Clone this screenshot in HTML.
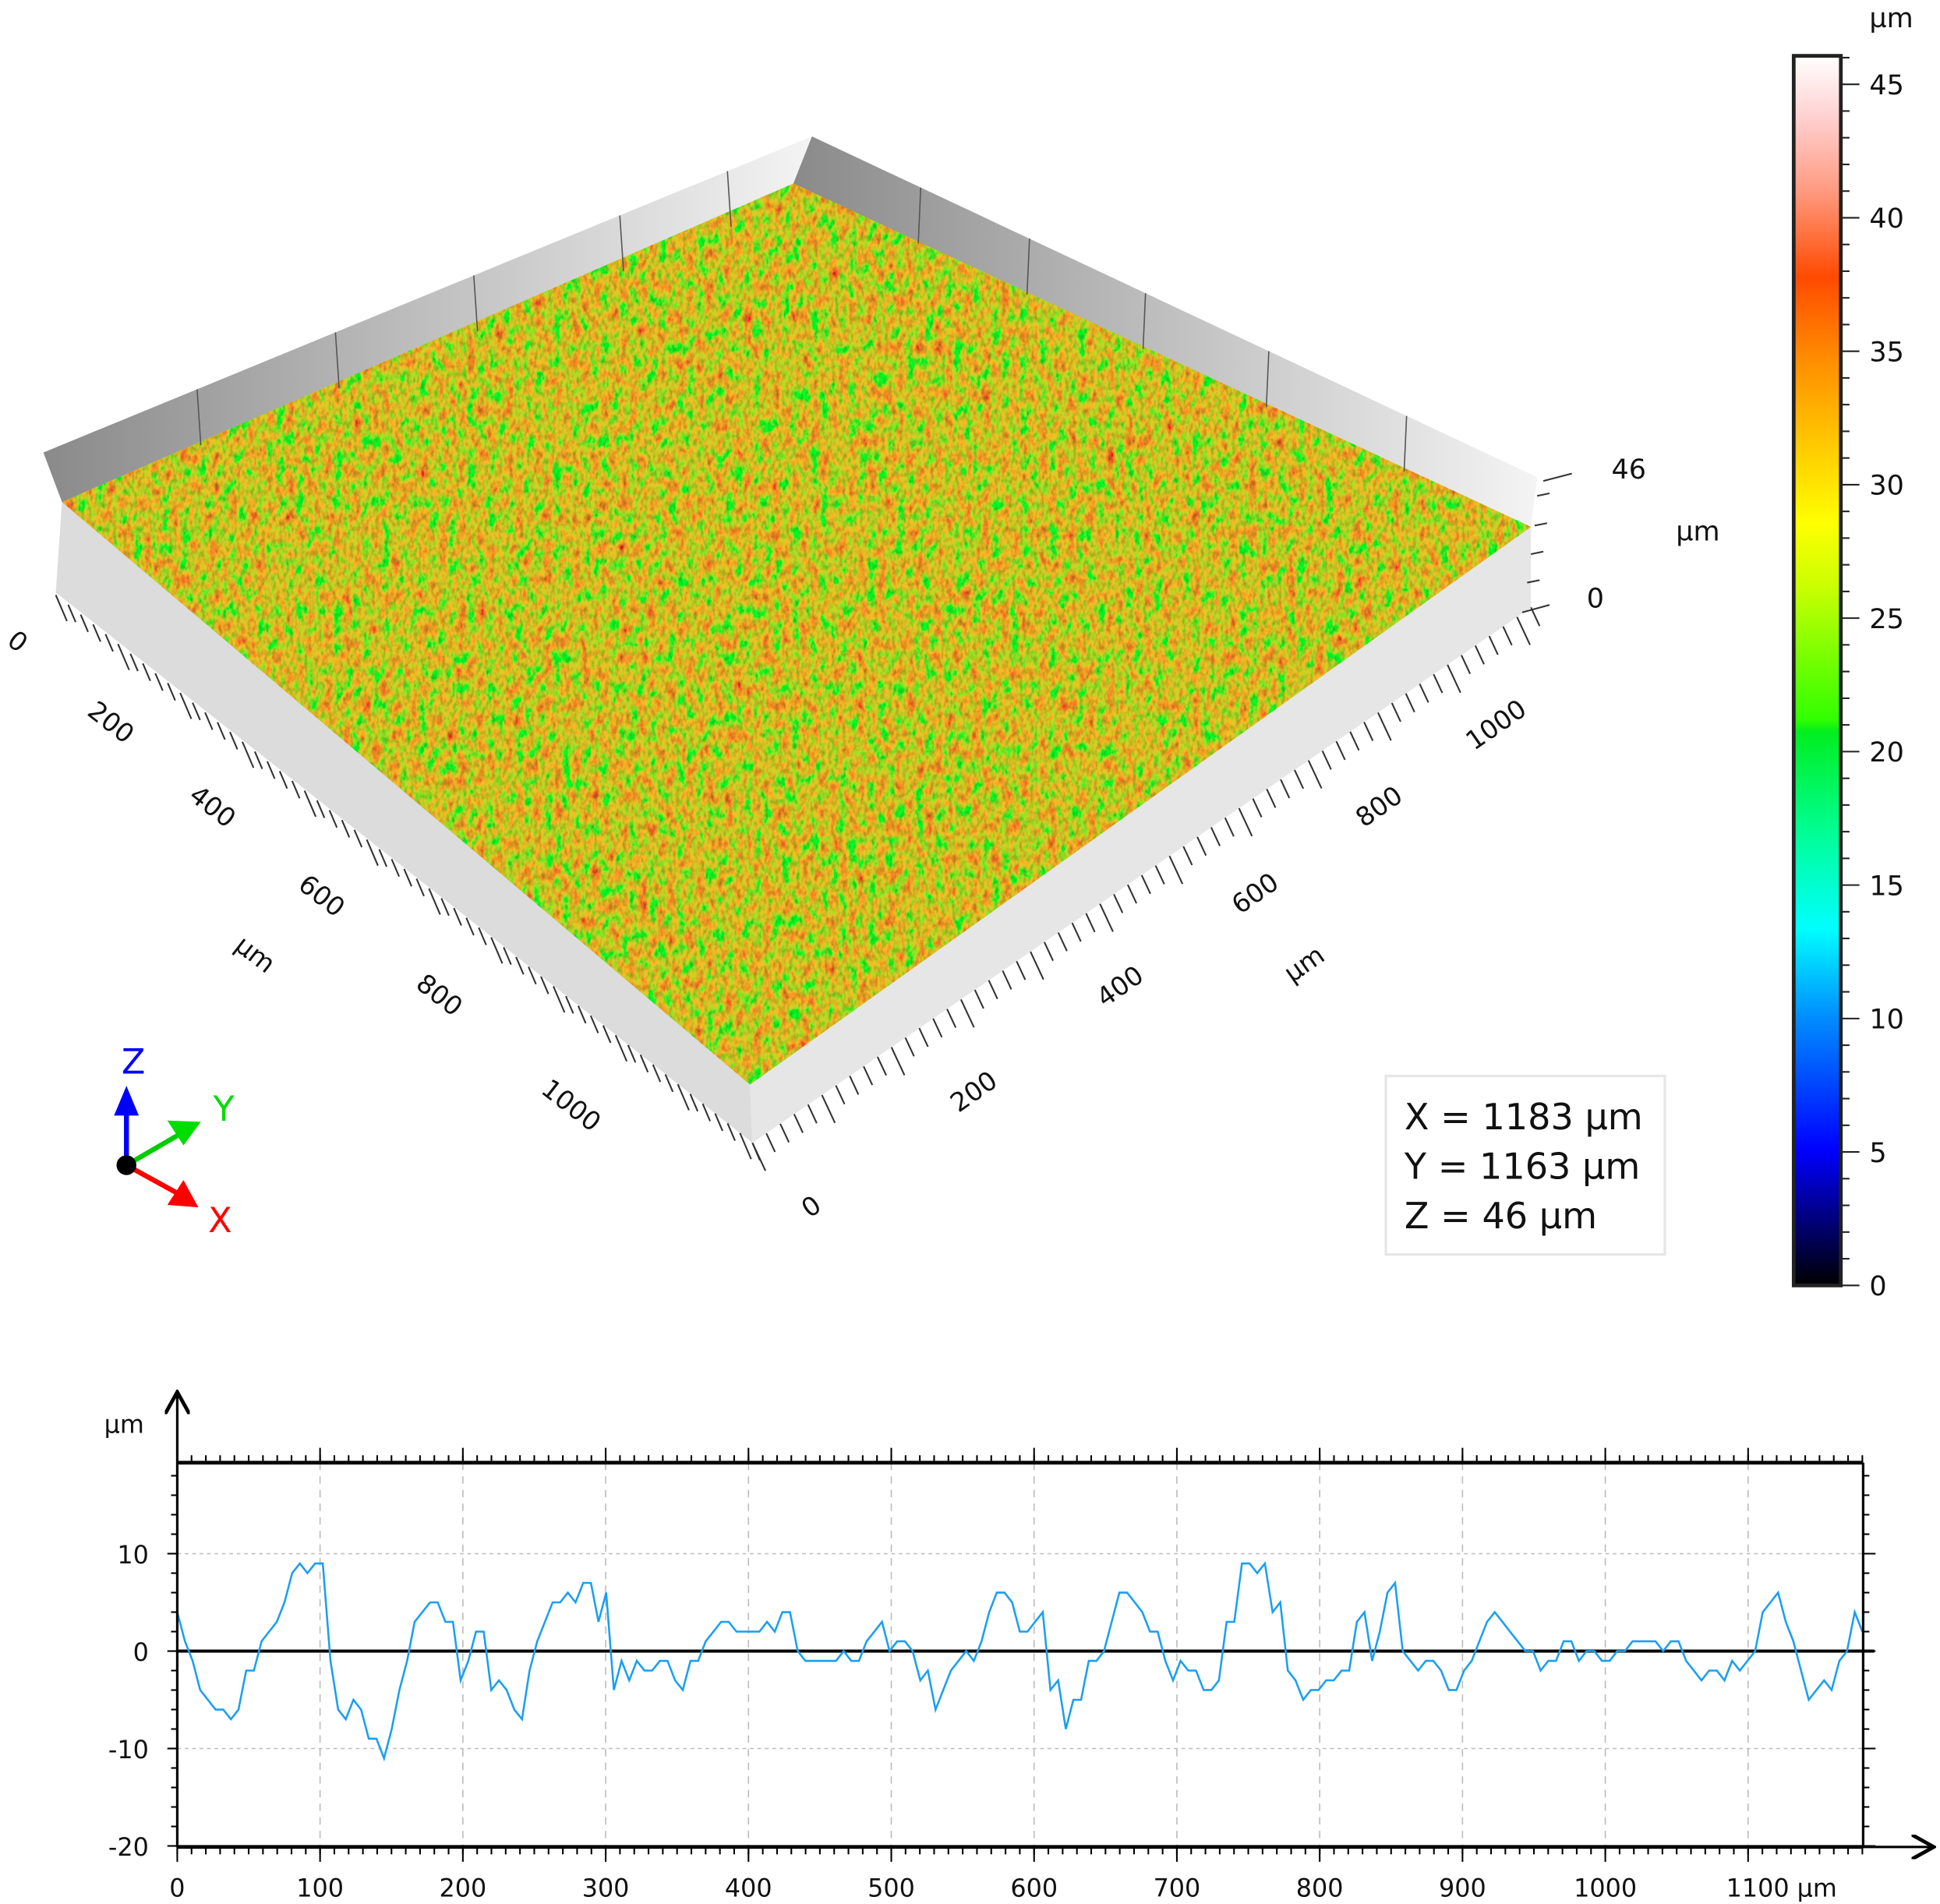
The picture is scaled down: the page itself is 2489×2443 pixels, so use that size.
<!DOCTYPE html>
<html><head><meta charset="utf-8"><style>
html,body{margin:0;padding:0;background:#fff;}
svg{display:block;font-family:"DejaVu Sans","Liberation Sans",sans-serif;}
</style></head><body>
<svg id="root" width="2489" height="2443" viewBox="0 0 1565 1536" xmlns="http://www.w3.org/2000/svg">
<defs>
<linearGradient id="wallL" x1="0" y1="0" x2="1" y2="0"><stop offset="0" stop-color="#8a8a8a"/><stop offset="1" stop-color="#f4f4f4"/></linearGradient>
<linearGradient id="wallR" x1="0" y1="0" x2="1" y2="0"><stop offset="0" stop-color="#8a8a8a"/><stop offset="1" stop-color="#f4f4f4"/></linearGradient>
<linearGradient id="cbar" x1="0" y1="1" x2="0" y2="0">
<stop offset="0" stop-color="#000000"/><stop offset="0.11" stop-color="#0000ff"/><stop offset="0.22" stop-color="#0090ff"/>
<stop offset="0.29" stop-color="#00ffff"/><stop offset="0.36" stop-color="#00ffa0"/><stop offset="0.45" stop-color="#00ee20"/>
<stop offset="0.46" stop-color="#30ff00"/><stop offset="0.57" stop-color="#ccff00"/><stop offset="0.62" stop-color="#ffff00"/>
<stop offset="0.68" stop-color="#ffcc00"/><stop offset="0.75" stop-color="#ff9000"/><stop offset="0.82" stop-color="#ff4a00"/>
<stop offset="0.89" stop-color="#ff9a80"/><stop offset="0.95" stop-color="#ffd0d0"/><stop offset="1" stop-color="#ffffff"/></linearGradient>
<filter id="noise" x="0" y="0" width="100%" height="100%">
<feTurbulence type="fractalNoise" baseFrequency="0.13 0.08" numOctaves="4" seed="4" result="n"/>
<feColorMatrix in="n" type="matrix" values="3.4 0 0 0 -0.95  -1.5 0 0 0 1.35  0 0 0 0 0.02  0 0 0 0 1"/>
</filter>
<filter id="shade" x="0" y="0" width="100%" height="100%">
<feTurbulence type="fractalNoise" baseFrequency="0.35 0.2" numOctaves="2" seed="9" result="m"/>
<feColorMatrix in="m" type="matrix" values="0 0 0 0 0  0 0 0 0 0.1  0 0 0 0 0  -1.6 0 0 0 0.95"/>
</filter>
<clipPath id="surfClip"><polygon points="50,405 640,148 1235,425 605,875"/></clipPath>
<marker id="arr" markerWidth="10" markerHeight="10" refX="8" refY="5" orient="auto"><path d="M0,0 L9,5 L0,10" fill="none" stroke="#000" stroke-width="1.5"/></marker>
</defs>

<g>
<polygon points="35,365 655,110 640,148 50,405" fill="url(#wallL)"/>
<polygon points="655,110 1240,385 1235,425 640,148" fill="url(#wallR)"/>
<polygon points="50,405 605,875 607,922 45,478" fill="#dcdcdc"/>
<polygon points="605,875 1235,425 1235,490 607,922" fill="#e6e6e6"/>
<g clip-path="url(#surfClip)">
<rect x="0" y="100" width="1300" height="800" fill="#8fbf10"/>
<rect x="0" y="100" width="1300" height="800" filter="url(#noise)" opacity="0.95"/>
<rect x="0" y="100" width="1300" height="800" filter="url(#shade)" opacity="0.45"/>
</g>
<g id="wallLines" stroke="#555" stroke-width="1"></g>
<g id="edgeTicks" stroke="#333" stroke-width="1.3"></g>
<g font-size="21" fill="#111">
<text x="8" y="525" transform="rotate(38 15 517)">0</text>
<text x="70" y="590" transform="rotate(38 90 582)">200</text>
<text x="152" y="658" transform="rotate(38 172 650)">400</text>
<text x="240" y="730" transform="rotate(38 260 722)">600</text>
<text x="190" y="776" transform="rotate(38 205 768)">µm</text>
<text x="335" y="810" transform="rotate(38 355 802)">800</text>
<text x="435" y="898" transform="rotate(38 460 890)">1000</text>
</g>
<g font-size="21" fill="#111">
<text x="647" y="980" transform="rotate(-35 655 972)">0</text>
<text x="765" y="888" transform="rotate(-35 785 880)">200</text>
<text x="883" y="803" transform="rotate(-35 903 795)">400</text>
<text x="1035" y="786" transform="rotate(-35 1050 778)">µm</text>
<text x="992" y="728" transform="rotate(-35 1012 720)">600</text>
<text x="1092" y="658" transform="rotate(-35 1112 650)">800</text>
<text x="1180" y="593" transform="rotate(-35 1205 585)">1000</text>
</g>
<g font-size="22" fill="#111">
<path d="M1245,388 L1268,382 M1240,400 L1250,398 M1238,424 L1248,422 M1235,447 L1245,445 M1232,470 L1242,468 M1228,494 L1250,488" stroke="#333" stroke-width="1.3"/>
<text x="1300" y="386">46</text><text x="1352" y="436">µm</text><text x="1280" y="490">0</text>
</g>
</g>

<g>
<line x1="102" y1="940" x2="102" y2="895" stroke="#0000ff" stroke-width="4"/><polygon points="92,900 112,900 102,876" fill="#0000ff"/>
<line x1="102" y1="940" x2="145" y2="915" stroke="#00cc00" stroke-width="4"/><polygon points="135,904 148,924 162,905" fill="#00dd00"/>
<line x1="102" y1="940" x2="142" y2="962" stroke="#ff0000" stroke-width="4"/><polygon points="135,972 148,952 160,974" fill="#ff0000"/>
<circle cx="102" cy="940" r="8" fill="#000"/>
<text x="98" y="866" font-size="28" fill="#0000ff">Z</text>
<text x="172" y="904" font-size="28" fill="#00dd00">Y</text>
<text x="168" y="994" font-size="28" fill="#ff0000">X</text>
</g>

<g>
<rect x="1118" y="868" width="225" height="144" fill="#fff" stroke="#e6e6e6" stroke-width="2"/>
<text x="1133" y="911" font-size="29" fill="#111">X = 1183 µm</text>
<text x="1133" y="951" font-size="29" fill="#111">Y = 1163 µm</text>
<text x="1133" y="991" font-size="29" fill="#111">Z = 46 µm</text>
</g>

<g>
<rect x="1447" y="45" width="38" height="992" fill="url(#cbar)" stroke="#222" stroke-width="3"/>
<g id="cbTicks" stroke="#222" stroke-width="1.3"></g>
<g id="cbLabels" font-size="22" fill="#111"></g>
<text x="1508" y="22" font-size="22" fill="#111">µm</text>
</g>

<g>
<g id="grid"></g>
<line x1="143" y1="1332" x2="1512" y2="1332" stroke="#000" stroke-width="2.5"/>
<polyline id="profile" fill="none" stroke="#1a9ff0" stroke-width="1.6"/>
<line x1="143" y1="1180" x2="1503" y2="1180" stroke="#000" stroke-width="3"/>
<line x1="143" y1="1490" x2="1503" y2="1490" stroke="#000" stroke-width="3"/>
<line x1="1503" y1="1180" x2="1503" y2="1490" stroke="#000" stroke-width="2"/>
<line x1="143" y1="1490" x2="143" y2="1125" stroke="#000" stroke-width="2" marker-end="url(#arr)"/>
<line x1="1503" y1="1490" x2="1558" y2="1490" stroke="#000" stroke-width="2" marker-end="url(#arr)"/>
<text x="84" y="1156" font-size="20" fill="#111">µm</text>
<g id="ticks" stroke="#000" stroke-width="1.3"></g>
<g id="labels" font-size="20" fill="#111"></g>
</g>

<script>
const profileLengthUm = 1180;
const profileZ = [4,1,-1,-4,-5,-6,-6,-7,-6,-2,-2,1,2,3,5,8,9,8,9,9,-1,-6,-7,-5,-6,-9,-9,-11,-8,-4,-1,3,4,5,5,3,3,-3,-1,2,2,-4,-3,-4,-6,-7,-2,1,3,5,5,6,5,7,7,3,6,-4,-1,-3,-1,-2,-2,-1,-1,-3,-4,-1,-1,1,2,3,3,2,2,2,2,3,2,4,4,0,-1,-1,-1,-1,-1,0,-1,-1,1,2,3,0,1,1,0,-3,-2,-6,-4,-2,-1,0,-1,1,4,6,6,5,2,2,3,4,-4,-3,-8,-5,-5,-1,-1,0,3,6,6,5,4,2,2,-1,-3,-1,-2,-2,-4,-4,-3,3,3,9,9,8,9,4,5,-2,-3,-5,-4,-4,-3,-3,-2,-2,3,4,-1,2,6,7,0,-1,-2,-1,-1,-2,-4,-4,-2,-1,1,3,4,3,2,1,0,0,-2,-1,-1,1,1,-1,0,0,-1,-1,0,0,1,1,1,1,0,1,1,-1,-2,-3,-2,-2,-3,-1,-2,-1,0,4,5,6,3,1,-2,-5,-4,-3,-4,-1,0,4,2];
const profileX = profileZ.map((_, i) => i * profileLengthUm / (profileZ.length - 1));
const xTicks = [0,100,200,300,400,500,600,700,800,900,1000,1100];
const yTicks = [10,0,-10,-20];
const cbValues = [0,5,10,15,20,25,30,35,40,45];

const NS = "http://www.w3.org/2000/svg";
const sx = v => 143 + v * 1.152;
const sy = v => 1332 - v * 7.86;
const cy = v => 1037 - v * (969 / 45);
function mk(tag, parent, attrs) { const e = document.createElementNS(NS, tag); for (const k in attrs) e.setAttribute(k, attrs[k]); parent.appendChild(e); return e; }

const pl = document.getElementById('profile');
pl.setAttribute('points', profileX.map((x, i) => sx(x).toFixed(1) + ',' + sy(profileZ[i]).toFixed(1)).join(' '));

const grid = document.getElementById('grid'), ticks = document.getElementById('ticks'), labels = document.getElementById('labels');
xTicks.forEach(v => {
  if (v > 0) { const g = mk('line', grid, {x1: sx(v), y1: 1180, x2: sx(v), y2: 1490, stroke: '#bbb', 'stroke-dasharray': '6,5'});
    
     }
  const t = mk('text', labels, {x: sx(v), y: 1530, 'text-anchor': 'middle'});
  t.textContent = v === 1100 ? '1100 µm' : String(v);
  if (v === 1100) t.setAttribute('x', sx(v) + 27);
  
  
  mk('line', ticks, {x1: sx(v), y1: 1168, x2: sx(v), y2: 1180});
  mk('line', ticks, {x1: sx(v), y1: 1490, x2: sx(v), y2: 1502});
});
for (let v = 0; v <= 1180; v += 10) { mk('line', ticks, {x1: sx(v), y1: 1174, x2: sx(v), y2: 1180}); mk('line', ticks, {x1: sx(v), y1: 1490, x2: sx(v), y2: 1496}); }
yTicks.forEach(v => {
  if (v !== 0) { const g = mk('line', grid, {x1: 143, y1: sy(v), x2: 1503, y2: sy(v), stroke: '#bbb', 'stroke-dasharray': '3,3'});
    
     }
  const t = mk('text', labels, {x: 120, y: sy(v) + 8, 'text-anchor': 'end'});
  t.textContent = String(v);
  
  
  mk('line', ticks, {x1: 135, y1: sy(v), x2: 143, y2: sy(v)});
  mk('line', ticks, {x1: 1503, y1: sy(v), x2: 1513, y2: sy(v)});
});
for (let v = -20; v <= 19; v += 2) { mk('line', ticks, {x1: 138, y1: sy(v), x2: 143, y2: sy(v)}); mk('line', ticks, {x1: 1503, y1: sy(v), x2: 1508, y2: sy(v)}); }

const cbT = document.getElementById('cbTicks'), cbL = document.getElementById('cbLabels');
for (let v = 0; v <= 46; v++) { const big = v % 5 === 0; mk('line', cbT, {x1: 1485, y1: cy(v), x2: big ? 1500 : 1492, y2: cy(v)}); }
cbValues.forEach(v => { const t = mk('text', cbL, {x: 1508, y: cy(v) + 8}); t.textContent = String(v);
  
   });

const et = document.getElementById('edgeTicks');
for (let i = 0; i <= 56; i++) { const f = i / 56; const x = 45 + (607 - 45) * f, y = 480 + (922 - 480) * f; const L = i % 5 === 0 ? 1.5 : 1;
  mk('line', et, {x1: x, y1: y, x2: x + 6 * L, y2: y + 14 * L}); }
for (let i = 0; i <= 56; i++) { const f = i / 56; const x = 607 + (1235 - 607) * f, y = 922 + (490 - 922) * f; const L = i % 5 === 0 ? 1.5 : 1;
  mk('line', et, {x1: x, y1: y, x2: x + 7 * L, y2: y + 15 * L}); }
const wl = document.getElementById('wallLines');
[0.2, 0.38, 0.56, 0.75, 0.89].forEach(f => { const x = 35 + 620 * f, y = 365 - 255 * f; mk('line', wl, {x1: x, y1: y, x2: x + 3, y2: y + 45}); });
[0.15, 0.3, 0.46, 0.63, 0.82].forEach(f => { const x = 655 + 585 * f, y = 110 + 275 * f; mk('line', wl, {x1: x, y1: y, x2: x - 2, y2: y + 45}); });
</script>
</svg>
</body></html>
